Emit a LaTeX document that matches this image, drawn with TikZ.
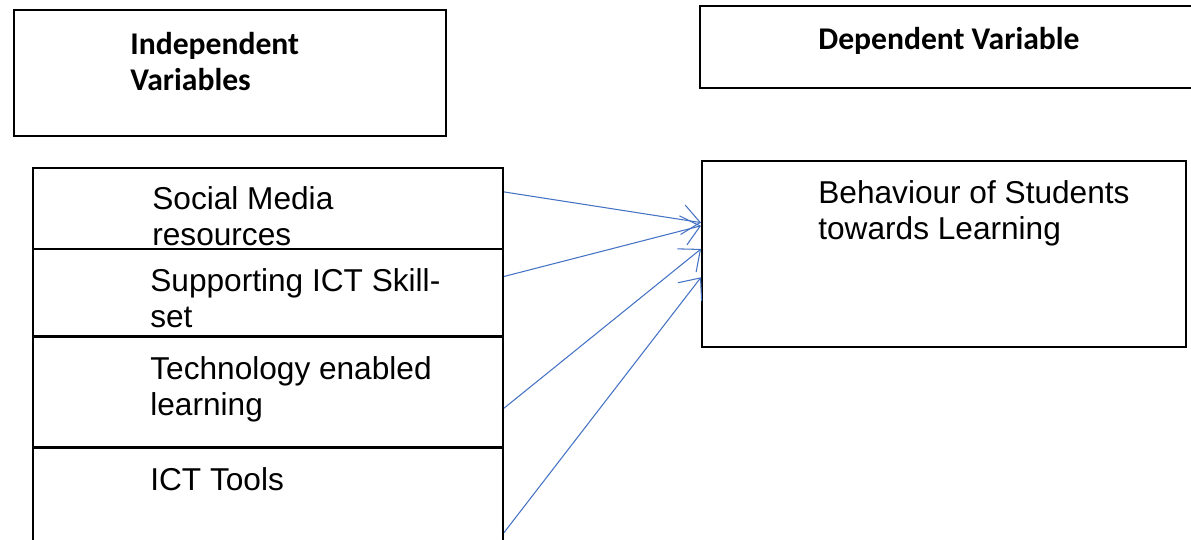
\documentclass[tikz,border=0pt]{standalone}
\usepackage{fontspec}
\setmainfont{Liberation Sans}
\newfontfamily\headfont{Carlito}
\usetikzlibrary{calc}
\usetikzlibrary{fit}
\usetikzlibrary{positioning}
\usetikzlibrary{arrows.meta}

\definecolor{linkblue}{RGB}{68,114,196}

\tikzset{
  varbox/.style={draw, line width=1.1pt, inner sep=0pt},
  vartext/.style={anchor=base west, inner sep=0pt, align=left, font=\fontsize{18}{21}\selectfont},
  headtext/.style={anchor=base west, inner sep=0pt, align=left, font=\headfont\bfseries\fontsize{18}{20.5}\selectfont},
  link/.style={draw=linkblue, line width=0.6pt, -{Straight Barb[length=10pt,width=17pt]}}
}

\begin{document}
\begin{tikzpicture}[x=0.02cm, y=-0.02cm]
	\useasboundingbox (0,0) rectangle (1191,540);

	% heading boxes (text placed by its last baseline)
	\node[varbox, fit={(14,10) (446,136)}] (indep) {};
	\node[varbox, fit={(700,6) (1215,88)}] (dep) {};
	\node[headtext] (indeptxt) at (130,91) {Independent\\Variables};
	\node[headtext] (deptxt) at (818,50) {Dependent Variable};

	% independent variables
	\foreach \name/\top/\bot in {sm/168/249, skill/249/336, tel/337/447, tools/448/565} {
	 \node[varbox, fit={(33,\top) (503,\bot)}] (\name) {};
	}
	\node[vartext] (smtxt) at (152,246) {Social Media\\resources};
	\node[vartext] (skilltxt) at (150,328) {Supporting ICT Skill-\\set};
	\node[vartext] (teltxt) at (150,416) {Technology enabled\\learning};
	\node[vartext] (toolstxt) at (150,491) {ICT Tools};

	% dependent variable
	\node[varbox, fit={(702,161) (1186,347)}] (beh) {};
	\node[vartext] (behtxt) at (818,240) {Behaviour of Students\\towards Learning};

	% arrows
	\draw[link] ($(sm.north east)!0.30!(sm.south east)$) -- ($(beh.north west)!0.333!(beh.south west)$);
	\draw[link] ($(skill.north east)!0.32!(skill.south east)$) -- ($(beh.north west)!0.35!(beh.south west)$);
	\draw[link] ($(tel.north east)!0.645!(tel.south east)$) -- ($(beh.north west)!0.473!(beh.south west)$);
	\draw[link] ($(tools.north east)!0.72!(tools.south east)$) -- ($(beh.north west)!0.624!(beh.south west)$);
\end{tikzpicture}
\end{document}
